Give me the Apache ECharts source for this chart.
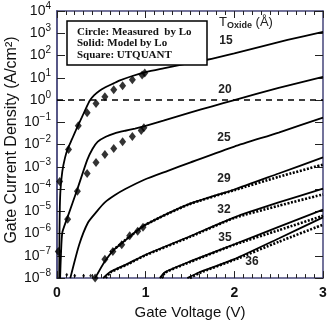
<!DOCTYPE html>
<html><head><meta charset="utf-8">
<script src="https://cdn.jsdelivr.net/npm/echarts@6/dist/echarts.min.js"></script>
<style>html,body{margin:0;padding:0;background:#fff}#c{width:331px;height:325px}</style>
</head><body><div id="c"></div>
<script>
// All values: [gate voltage (V), log10 of gate current density (A/cm^2)]
const xTickLabels = ['0', '1', '2', '3'];
const yExponents = [-8, -7, -6, -5, -4, -3, -2, -1, 0, 1, 2, 3, 4];

const solid15 = [[0.025,-8],[0.028,-6],[0.032,-4.8],[0.04,-4.0],[0.06,-3.2],[0.09,-2.6],[0.12,-2.2],[0.17,-1.75],[0.23,-1.2],[0.28,-0.78],[0.32,-0.43],[0.37,-0.02],[0.42,0.22],[0.48,0.42],[0.54,0.56],[0.64,0.75],[0.71,0.88],[0.85,1.08],[1.0,1.25],[1.2,1.42],[1.42,1.6],[1.69,1.81],[2.0,2.1],[2.29,2.39],[2.6,2.7],[3.0,3.06]];
const solid20 = [[0.035,-8],[0.045,-6.9],[0.06,-5.95],[0.12,-5.25],[0.23,-4.0],[0.34,-2.7],[0.4,-2.2],[0.46,-1.87],[0.55,-1.65],[0.65,-1.5],[0.77,-1.38],[0.88,-1.28],[0.99,-1.17],[1.2,-0.93],[1.5,-0.57],[1.75,-0.28],[2.0,0.0],[2.5,0.55],[3.0,1.04]];
const solid25 = [[0.15,-8],[0.25,-6.5],[0.35,-5.5],[0.45,-5.0],[0.54,-4.6],[0.65,-4.28],[0.77,-4.0],[0.99,-3.57],[1.25,-3.18],[1.5,-2.81],[2.0,-2.09],[2.5,-1.46],[3.0,-0.79]];
const solid29 = [[0.43,-8],[0.54,-7.24],[0.65,-6.7],[0.77,-6.3],[0.88,-5.94],[0.99,-5.62],[1.48,-4.69],[2.0,-4.02],[2.5,-3.3],[3.0,-2.58]];
const solid32 = [[0.52,-8],[0.6,-7.73],[0.8,-7.35],[1.0,-6.95],[1.5,-6.12],[2.0,-5.27],[2.5,-4.6],[3.0,-3.98]];
const solid35 = [[1.16,-8],[1.22,-7.73],[1.5,-7.25],[2.0,-6.48],[2.5,-5.7],[3.0,-4.92]];
const solid36 = [[1.47,-8],[1.6,-7.75],[2.0,-7.15],[2.5,-6.22],[3.0,-5.27]];

const dotted29 = [[0.6,-6.85],[0.8,-6.2],[1.0,-5.6],[1.48,-4.7],[2.0,-4.05],[2.5,-3.45],[3.0,-2.9]];
const dotted32 = [[0.55,-8],[0.6,-7.75],[0.8,-7.37],[1.0,-6.97],[1.5,-6.15],[2.0,-5.3],[2.5,-4.75],[3.0,-4.24]];
const dotted35 = [[1.18,-8],[1.22,-7.75],[1.5,-7.28],[2.0,-6.5],[2.5,-5.85],[3.0,-5.2]];
const dotted36 = [[1.5,-8],[1.6,-7.78],[2.0,-7.18],[2.5,-6.37],[3.0,-5.6]];

const measured15 = [[0.03,-3.66],[0.13,-2.22],[0.24,-1.15],[0.34,-0.57],[0.44,-0.16],[0.54,0.15],[0.64,0.46],[0.74,0.64],[0.85,0.91],[0.96,1.13],[0.99,1.22]];
const measured20 = [[0.015,-6.8],[0.12,-5.36],[0.23,-4.1],[0.34,-3.3],[0.44,-2.81],[0.54,-2.45],[0.64,-2.18],[0.74,-1.87],[0.85,-1.64],[0.95,-1.37],[0.98,-1.25]];
const measured29 = [[0.43,-8.0],[0.54,-7.15],[0.63,-6.8],[0.73,-6.5],[0.82,-6.1],[0.91,-5.9],[0.97,-5.72]];
const measuredFloor = [[0.11,-7.85],[0.2,-7.9],[0.3,-7.9],[0.38,-7.9]];
const unityLine = [[0, 0], [3, 0]];

const chart = echarts.init(document.getElementById('c'), null, {renderer: 'canvas'});
const axisColor = '#45457a';
const font = 'Liberation Sans, Arial, sans-serif';

function solid(d){ return {type:'line', data:d, showSymbol:false, smooth:0.2, lineStyle:{color:'#000', width:1.8}, z:3}; }
function dotted(d){ return {type:'line', data:d, showSymbol:false, smooth:0.2, lineStyle:{color:'#000', width:2.6, type:[2,1.6]}, z:3}; }
function meas(d, s){ return {type:'scatter', data:d, symbol:'diamond', symbolSize:s, itemStyle:{color:'#000'}, z:4}; }

function supLabel(v){
  const e = v < 0 ? '\u2212' + (-v) : String(v);
  return '{b|10}{s|' + e + '}';
}

chart.setOption({
  animation: false,
  grid: {left: 57, top: 11, right: 8, bottom: 46},
  xAxis: [
    {type:'value', min:0, max:3, interval:1, position:'bottom',
     axisLine:{onZero:false, lineStyle:{color:axisColor, width:1.5}},
     axisTick:{inside:true, length:7, lineStyle:{color:'#222'}},
     minorTick:{show:true, splitNumber:10, length:4, lineStyle:{color:'#222'}},
     splitLine:{show:false},
     axisLabel:{margin:8, fontSize:14, fontWeight:'bold', color:'#111', fontFamily:font,
       formatter: v => xTickLabels[Math.round(v)]},
     name:'Gate Voltage (V)', nameLocation:'middle', nameGap:26,
     nameTextStyle:{fontSize:15, color:'#111', fontFamily:font}},
    {type:'value', min:0, max:3, interval:1, position:'top',
     axisLine:{onZero:false, lineStyle:{color:axisColor, width:1.5}},
     axisTick:{inside:true, length:7, lineStyle:{color:'#222'}},
     minorTick:{show:true, splitNumber:10, length:4, lineStyle:{color:'#222'}},
     splitLine:{show:false}, axisLabel:{show:false}}
  ],
  yAxis: [
    {type:'value', min:-8, max:4, interval:1, position:'left',
     axisLine:{onZero:false, lineStyle:{color:axisColor, width:1.8}},
     axisTick:{inside:true, length:8, lineStyle:{color:'#222'}},
     splitLine:{show:false},
     axisLabel:{margin:6, color:'#111', fontFamily:font,
       formatter: v => supLabel(v),
       rich:{b:{fontSize:14, lineHeight:20, fontFamily:font, color:'#111'},
             s:{fontSize:10, lineHeight:10, verticalAlign:'top', fontFamily:font, color:'#111'}}}},
    {type:'value', min:-8, max:4, interval:1, position:'right',
     axisLine:{onZero:false, lineStyle:{color:axisColor, width:1.5}},
     axisTick:{inside:true, length:8, lineStyle:{color:'#222'}},
     splitLine:{show:false}, axisLabel:{show:false}}
  ],
  series: [
    {type:'line', data:unityLine, showSymbol:false, lineStyle:{color:'#000', width:1.5, type:[6,5]}, z:2},
    solid(solid15), solid(solid20), solid(solid25), solid(solid29), solid(solid32), solid(solid35), solid(solid36),
    dotted(dotted29), dotted(dotted32), dotted(dotted35), dotted(dotted36),
    meas(measured15, [7,9]), meas(measured20, [7,9]), meas(measured29, [7,9]), meas(measuredFloor, [3,4])
  ],
  graphic: [
    {type:'rect', z:100, shape:{x:67, y:21, width:140, height:44}, style:{fill:'#fff', stroke:'#000', lineWidth:1.5}},
    {type:'text', z:101, x:77, y:32, style:{text:'Circle: Measured  by Lo', font:'bold 11px "Liberation Serif", serif', fill:'#111', verticalAlign:'middle'}},
    {type:'text', z:101, x:77, y:43, style:{text:'Solid: Model by Lo', font:'bold 11px "Liberation Serif", serif', fill:'#111', verticalAlign:'middle'}},
    {type:'text', z:101, x:77, y:55, style:{text:'Square: UTQUANT', font:'bold 11px "Liberation Serif", serif', fill:'#111', verticalAlign:'middle'}},
    {type:'text', z:101, x:219, y:14, style:{text:'{t|T}{u|Oxide}{t| (\u00c5)}',
       rich:{t:{fontSize:13, lineHeight:16, fontFamily:font, fill:'#222'}, u:{fontSize:9, lineHeight:10, verticalAlign:'bottom', fontFamily:font, fontWeight:'bold', fill:'#222'}}}},
    {type:'text', z:101, x:226, y:41, style:{text:'15', font:'bold 12px "Liberation Sans", Arial', fill:'#222', align:'center', verticalAlign:'middle'}},
    {type:'text', z:101, x:225, y:90, style:{text:'20', font:'bold 12px "Liberation Sans", Arial', fill:'#222', align:'center', verticalAlign:'middle'}},
    {type:'text', z:101, x:224, y:138, style:{text:'25', font:'bold 12px "Liberation Sans", Arial', fill:'#222', align:'center', verticalAlign:'middle'}},
    {type:'text', z:101, x:224, y:179, style:{text:'29', font:'bold 12px "Liberation Sans", Arial', fill:'#222', align:'center', verticalAlign:'middle'}},
    {type:'text', z:101, x:224, y:210, style:{text:'32', font:'bold 12px "Liberation Sans", Arial', fill:'#222', align:'center', verticalAlign:'middle'}},
    {type:'text', z:101, x:225, y:238, style:{text:'35', font:'bold 12px "Liberation Sans", Arial', fill:'#222', align:'center', verticalAlign:'middle'}},
    {type:'text', z:101, x:252, y:262, style:{text:'36', font:'bold 12px "Liberation Sans", Arial', fill:'#222', align:'center', verticalAlign:'middle'}},
    {type:'text', z:101, x:12, y:140, rotation:Math.PI/2, style:{text:'Gate Current Density (A/cm\u00b2)', font:'16px "Liberation Sans", Arial', fill:'#111', align:'center', verticalAlign:'middle'}}
  ]
});
</script>
</body></html>
